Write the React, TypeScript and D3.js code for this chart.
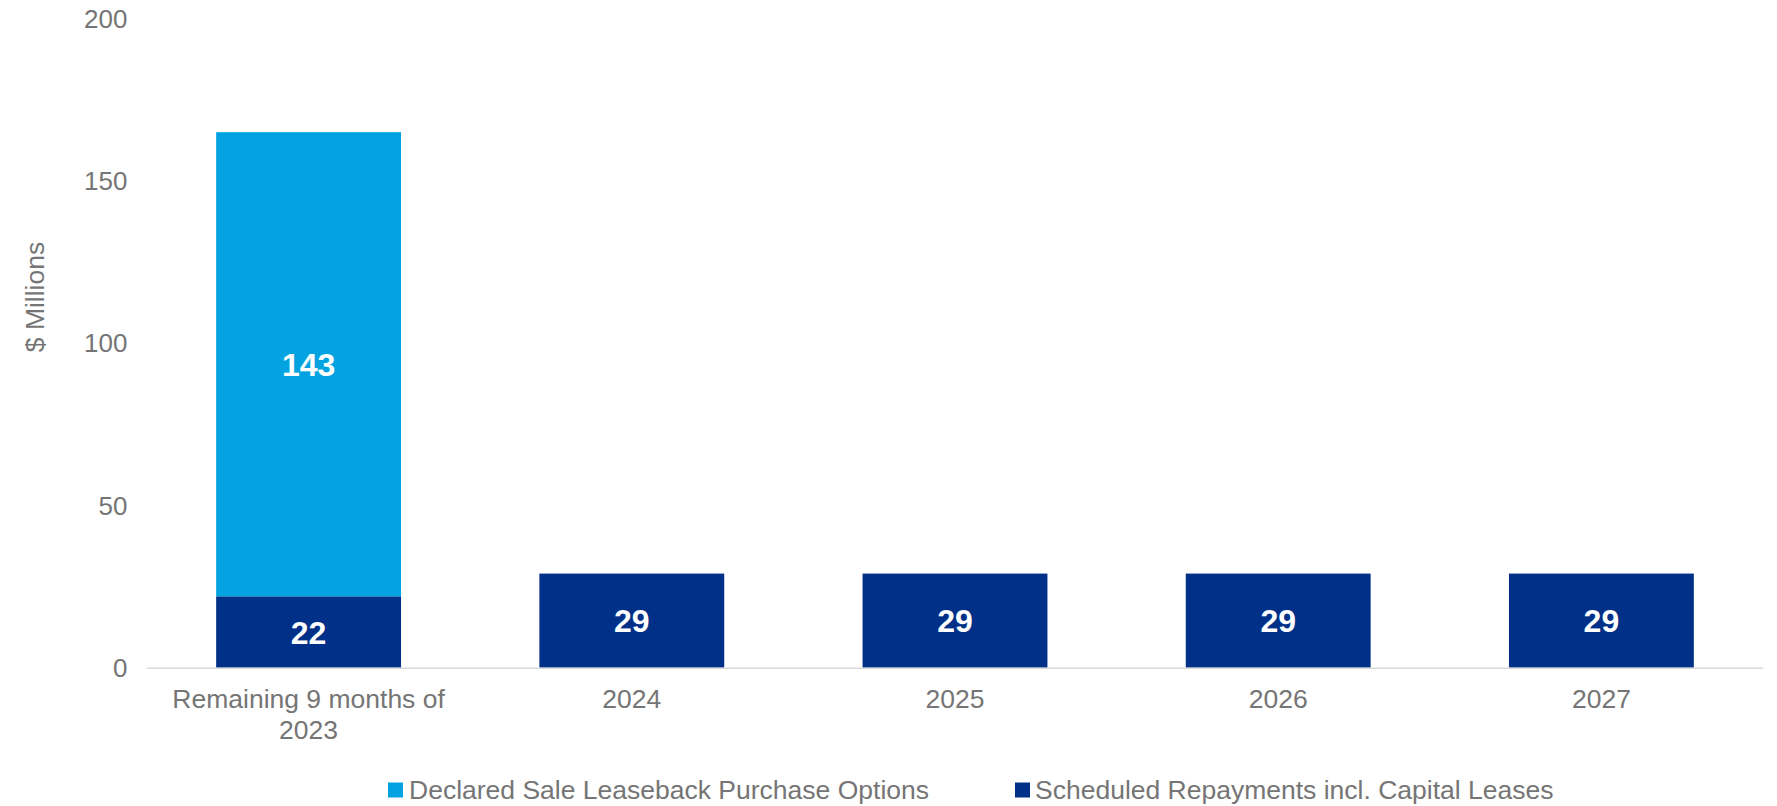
import React from "react";
import * as d3 from "d3";

const categories: string[][] = [["Remaining 9 months of", "2023"], ["2024"], ["2025"], ["2026"], ["2027"]];
const scheduled: number[] = [22, 29, 29, 29, 29];
const declared: number[] = [143, 0, 0, 0, 0];
const yTicks: number[] = [0, 50, 100, 150, 200];
const seriesNames: string[] = ["Declared Sale Leaseback Purchase Options", "Scheduled Repayments incl. Capital Leases"];

const W = 1777;
const H = 806;
const LIGHT = "#02A3E0";
const DARK = "#003087";
const GRAY = "#757575";
const FONT = "'Liberation Sans', Arial, sans-serif";

export default function App() {
  const left = 147;
  const right = 1763;
  const top = 18.6;
  const bottom = 667.7;
  const x = d3.scaleBand<number>().domain(d3.range(categories.length)).range([left, right]).paddingInner(0.428).paddingOuter(0.214);
  const y = d3.scaleLinear().domain([0, 200]).range([bottom, top]);
  const bw = x.bandwidth();

  return (
    <div style={{ position: "fixed", left: 0, top: 0, width: W, height: H, background: "#fff" }}>
      <svg width={W} height={H} style={{ display: "block" }} fontFamily={FONT}>
        {/* y tick labels */}
        {yTicks.map((t) => (
          <text key={t} x={127.5} y={y(t)} dy="0.35em" textAnchor="end" fontSize={26} fill={GRAY}>
            {t}
          </text>
        ))}
        {/* y axis title */}
        <text transform={`translate(35,297) rotate(-90)`} textAnchor="middle" dy="0.35em" fontSize={26.5} fill={GRAY}>
          $ Millions
        </text>
        {/* bars */}
        {categories.map((c, i) => {
          const x0 = x(i)!;
          return (
            <g key={i}>
              <rect x={x0} y={y(scheduled[i])} width={bw} height={y(0) - y(scheduled[i])} fill={DARK} />
              {declared[i] > 0 && (
                <rect
                  x={x0}
                  y={y(scheduled[i] + declared[i])}
                  width={bw}
                  height={y(scheduled[i]) - y(scheduled[i] + declared[i])}
                  fill={LIGHT}
                />
              )}
              <text x={x0 + bw / 2} y={(y(0) + y(scheduled[i])) / 2} dy="0.36em" textAnchor="middle" fontSize={32} fontWeight="bold" fill="#fff">
                {scheduled[i]}
              </text>
              {declared[i] > 0 && (
                <text
                  x={x0 + bw / 2}
                  y={(y(scheduled[i]) + y(scheduled[i] + declared[i])) / 2}
                  dy="0.36em"
                  textAnchor="middle"
                  fontSize={32}
                  fontWeight="bold"
                  fill="#fff"
                >
                  {declared[i]}
                </text>
              )}
              {c.map((line, j) => (
                <text key={j} x={x0 + bw / 2} y={699 + j * 31} dy="0.35em" textAnchor="middle" fontSize={26.5} fill={GRAY}>
                  {line}
                </text>
              ))}
            </g>
          );
        })}
        {/* x axis line */}
        <line x1={left} x2={right} y1={bottom + 0.5} y2={bottom + 0.5} stroke="#d9d9d9" strokeWidth={1.5} />
        {/* legend */}
        <rect x={388} y={782.5} width={15} height={15} fill={LIGHT} />
        <text x={409} y={790} dy="0.35em" fontSize={26.5} fill={GRAY}>
          {seriesNames[0]}
        </text>
        <rect x={1015} y={782.5} width={15} height={15} fill={DARK} />
        <text x={1035} y={790} dy="0.35em" fontSize={26.5} fill={GRAY}>
          {seriesNames[1]}
        </text>
      </svg>
    </div>
  );
}
